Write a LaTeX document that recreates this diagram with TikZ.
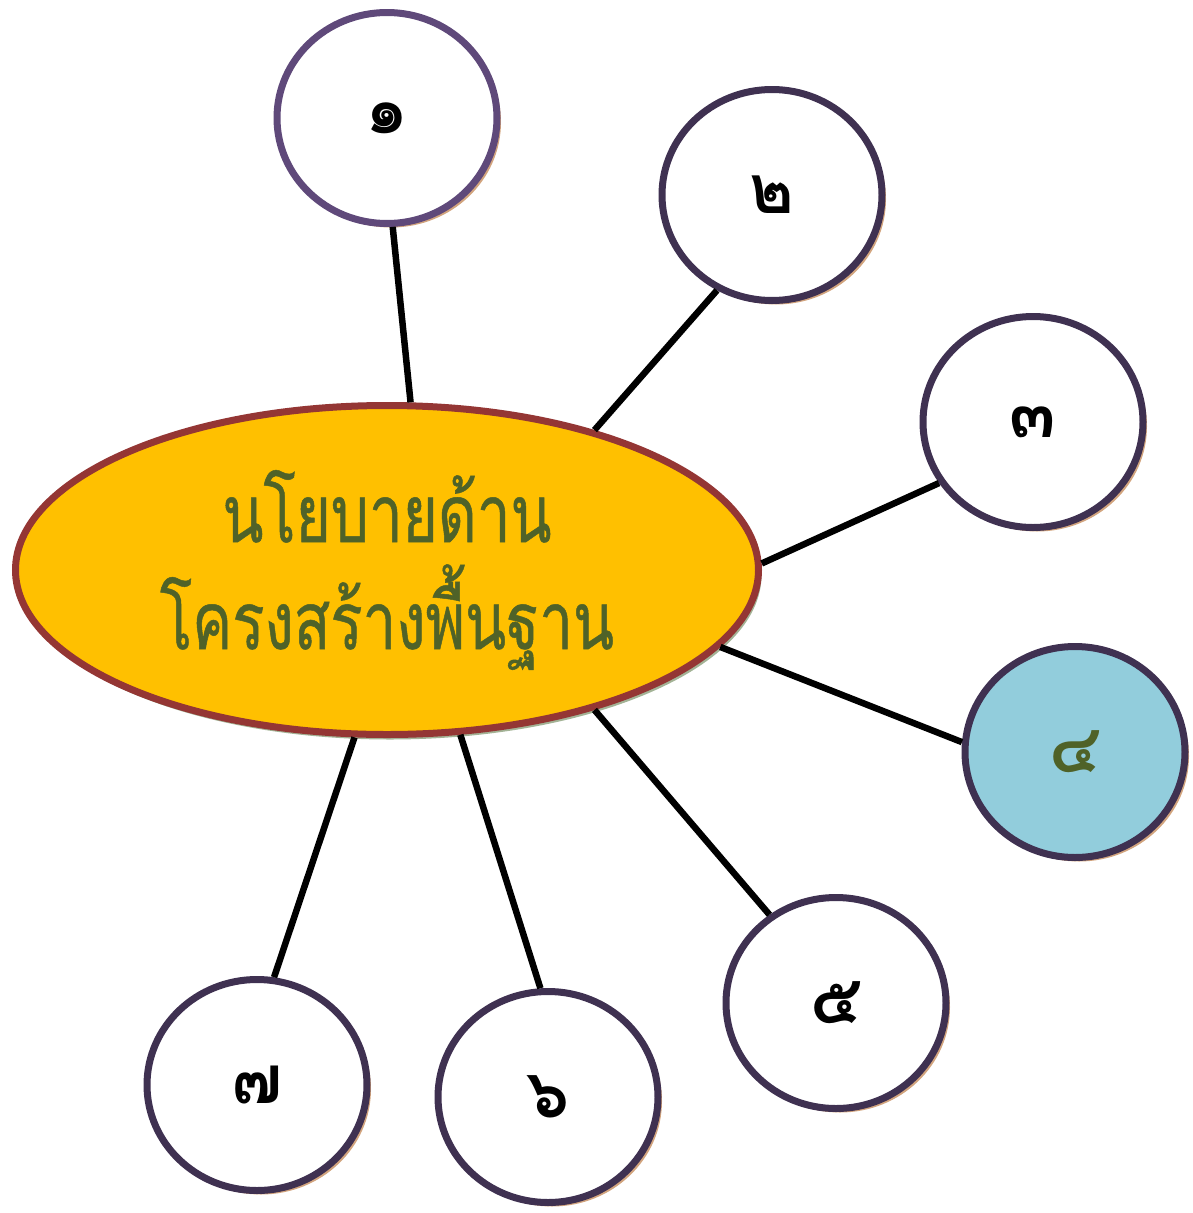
\documentclass[tikz,border=0pt]{standalone}
\usepackage{fontspec}
\newfontfamily\thaifont[Script=Thai]{Loma}
\newfontfamily\thaihub[Script=Thai,FakeStretch=0.75,FakeBold=0.6]{Loma}
\usetikzlibrary{shapes.geometric,shadows}
\definecolor{ellfill}{HTML}{FFC000}
\definecolor{ellline}{HTML}{943634}
\definecolor{ellshadow}{HTML}{A3B396}
\definecolor{circA}{HTML}{5F497A}
\definecolor{circB}{HTML}{3F3151}
\definecolor{circshadow}{HTML}{D2A47E}
\definecolor{olive}{HTML}{4F6228}
\definecolor{lightblue}{HTML}{92CDDC}
\newcommand{\lownum}[1]{\raisebox{-5pt}{#1}}
\begin{document}
\begin{tikzpicture}[x=1pt,y=-1pt,
 num/.style={ellipse, draw=circB, line width=7pt, fill=white, minimum width=220pt, minimum height=211pt, inner sep=0pt,
   font=\thaifont\bfseries\fontsize{68}{68}\selectfont,
   drop shadow={shadow xshift=4pt, shadow yshift=-4pt, fill=circshadow, opacity=1}},
 hub/.style={ellipse, draw=ellline, line width=7pt, fill=ellfill, minimum width=743pt, minimum height=329pt, inner sep=0pt,
   text=olive, align=center, font=\thaihub\fontsize{80}{107}\selectfont,
   drop shadow={shadow xshift=3pt, shadow yshift=-5pt, fill=ellshadow, opacity=1}},
 link/.style={line width=6.5pt}]
\useasboundingbox (0,0) rectangle (1192,1213);
\node[hub] (e) at (387,570) {นโยบายด้าน\\โครงสร้างพื้นฐาน};
\node[num, draw=circA] (c1) at (387,118) {\lownum{๑}};
\node[num] (c2) at (772,195) {\lownum{๒}};
\node[num] (c3) at (1033,422) {\lownum{๓}};
\node[num, fill=lightblue, text=olive] (c4) at (1075,752) {\lownum{๔}};
\node[num] (c5) at (836,1003) {\lownum{๕}};
\node[num] (c6) at (548,1097) {\lownum{๖}};
\node[num] (c7) at (257,1085) {\lownum{๗}};
\draw[link] (e.82) -- (c1.-87);
\draw[link] (e.34) -- (c2.240);
\draw[link] (e.1) -- (c3.213);
\draw[link] (e.-13) -- (c4.175);
\draw[link] (e.-34) -- (c5.127);
\draw[link] (e.-66) -- (c6.94);
\draw[link] (e.-101) -- (c7.81);
\end{tikzpicture}
\end{document}
